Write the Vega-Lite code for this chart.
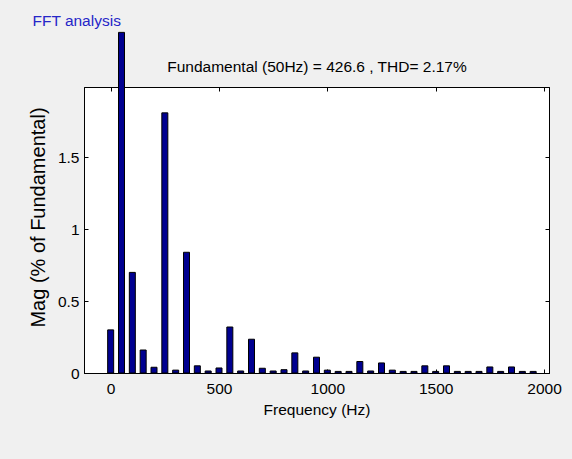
{
  "$schema": "https://vega.github.io/schema/vega-lite/v6.json",
  "width": 465,
  "height": 286,
  "autosize": "none",
  "padding": {"left": 84, "top": 87, "right": 23, "bottom": 86},
  "background": "#f0f0f0",
  "title": {
    "text": "FFT analysis",
    "anchor": "start",
    "frame": "bounds",
    "color": "#2626c8",
    "font": "Liberation Sans",
    "fontSize": 15.5,
    "fontWeight": "normal",
    "offset": 2,
    "dx": 4
  },
  "config": {
    "view": {"fill": "white", "stroke": "black", "strokeWidth": 1},
    "axis": {
      "font": "Liberation Sans",
      "labelFont": "Liberation Sans",
      "titleFont": "Liberation Sans",
      "labelFontSize": 15.5,
      "titleFontSize": 15.5,
      "titleFontWeight": "normal",
      "labelColor": "#000000",
      "titleColor": "#000000",
      "domainColor": "#000000",
      "tickColor": "#000000",
      "grid": false
    }
  },
  "data": {
    "values": [
      {"freq": 0, "mag": 0.30},
      {"freq": 50, "mag": 2.37},
      {"freq": 100, "mag": 0.70},
      {"freq": 150, "mag": 0.16},
      {"freq": 200, "mag": 0.04},
      {"freq": 250, "mag": 1.81},
      {"freq": 300, "mag": 0.02},
      {"freq": 350, "mag": 0.84},
      {"freq": 400, "mag": 0.05},
      {"freq": 450, "mag": 0.014},
      {"freq": 500, "mag": 0.035},
      {"freq": 550, "mag": 0.32},
      {"freq": 600, "mag": 0.014},
      {"freq": 650, "mag": 0.235},
      {"freq": 700, "mag": 0.033},
      {"freq": 750, "mag": 0.014},
      {"freq": 800, "mag": 0.023},
      {"freq": 850, "mag": 0.14},
      {"freq": 900, "mag": 0.014},
      {"freq": 950, "mag": 0.11},
      {"freq": 1000, "mag": 0.02},
      {"freq": 1050, "mag": 0.011},
      {"freq": 1100, "mag": 0.011},
      {"freq": 1150, "mag": 0.08},
      {"freq": 1200, "mag": 0.014},
      {"freq": 1250, "mag": 0.07},
      {"freq": 1300, "mag": 0.02},
      {"freq": 1350, "mag": 0.011},
      {"freq": 1400, "mag": 0.011},
      {"freq": 1450, "mag": 0.05},
      {"freq": 1500, "mag": 0.011},
      {"freq": 1550, "mag": 0.05},
      {"freq": 1600, "mag": 0.011},
      {"freq": 1650, "mag": 0.011},
      {"freq": 1700, "mag": 0.011},
      {"freq": 1750, "mag": 0.042},
      {"freq": 1800, "mag": 0.011},
      {"freq": 1850, "mag": 0.042},
      {"freq": 1900, "mag": 0.011},
      {"freq": 1950, "mag": 0.011}
    ]
  },
  "layer": [
    {
      "mark": {"type": "bar", "size": 6, "fill": "#000090", "stroke": "#000000", "strokeWidth": 1, "clip": false},
      "encoding": {
        "x": {
          "field": "freq", "type": "quantitative",
          "scale": {"domain": [-100, 2000], "nice": false, "zero": false},
          "axis": {"orient": "bottom", "values": [0, 500, 1000, 1500, 2000], "format": "d", "tickSize": -4, "labelPadding": 12, "title": "Frequency (Hz)", "titlePadding": 6}
        },
        "y": {
          "field": "mag", "type": "quantitative",
          "scale": {"domain": [0, 1.99], "nice": false},
          "axis": {"orient": "left", "values": [0, 0.5, 1, 1.5], "format": "~g", "tickSize": -4, "labelPadding": 9, "title": "Mag (% of Fundamental)", "titleFontSize": 20, "titleY": 130, "titlePadding": 9}
        }
      }
    },
    {
      "mark": {"type": "bar", "size": 6, "opacity": 0},
      "encoding": {
        "x": {
          "field": "freq", "type": "quantitative",
          "axis": {"orient": "top", "values": [0, 500, 1000, 1500, 2000], "labels": false, "tickSize": -4, "title": "Fundamental (50Hz) = 426.6 , THD= 2.17%", "titlePadding": 12}
        },
        "y": {
          "field": "mag", "type": "quantitative",
          "axis": {"orient": "right", "values": [0, 0.5, 1, 1.5], "labels": false, "tickSize": -4, "title": null}
        }
      }
    }
  ],
  "resolve": {"axis": {"x": "independent", "y": "independent"}}
}
